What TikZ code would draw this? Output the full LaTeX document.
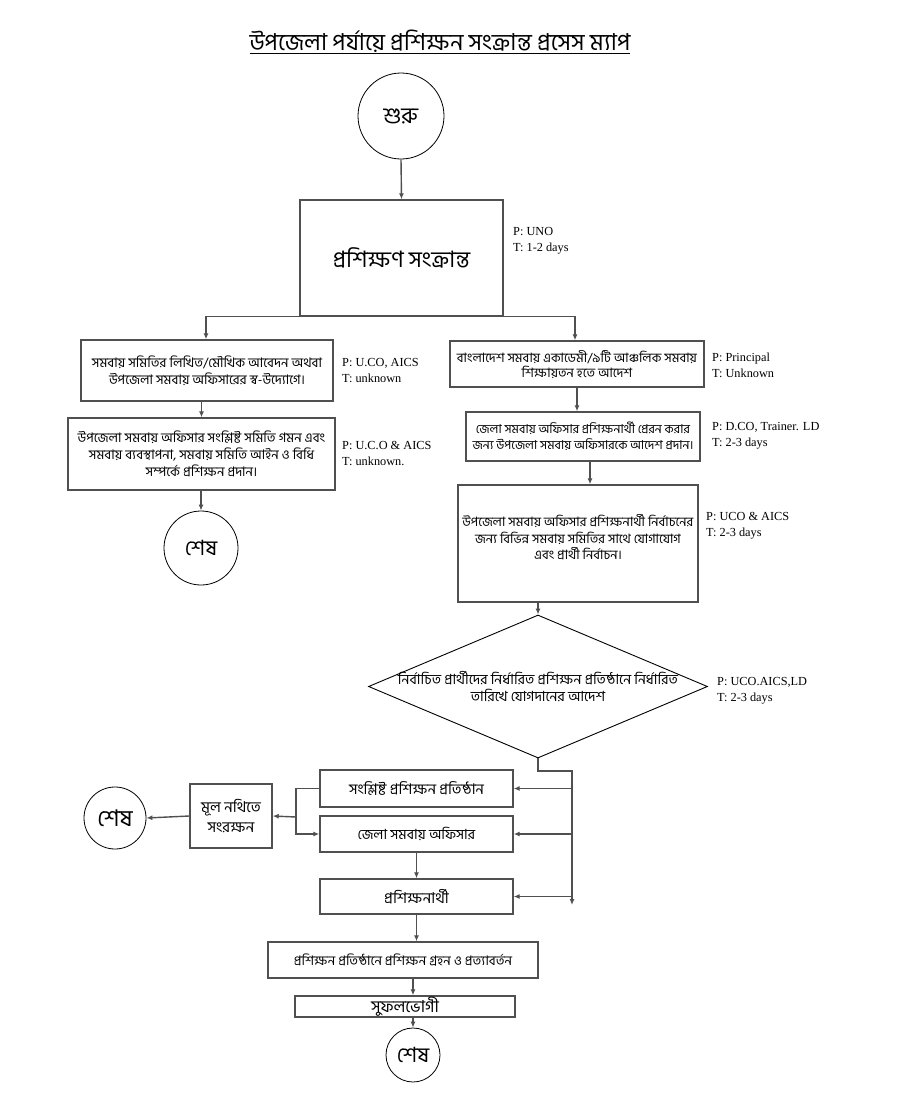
\documentclass[tikz,border=0pt]{standalone}
\usepackage{fontspec}
\setmainfont{Liberation Serif}
\newfontfamily\bn[Script=Bengali]{Hind Siliguri}
\usetikzlibrary{shapes.geometric,arrows.meta}
\definecolor{ln}{HTML}{505050}
\begin{document}
\begin{tikzpicture}[x=1pt,y=-1pt,
  box/.style={draw=ln,line width=1.4pt,inner sep=0pt,align=center,font=\bn\fontsize{13.2}{17}\selectfont},
  term/.style={circle,draw=black,line width=0.8pt,inner sep=0pt,font=\bn\fontsize{21}{24}\selectfont},
  info/.style={anchor=west,align=left,inner sep=0pt,font=\fontsize{12.3}{16}\selectfont},
  conn/.style={draw=ln,line width=1.4pt,-{Latex[length=6pt,width=5pt]}},
  plain/.style={draw=ln,line width=1.4pt}]
\fill[white] (0,0) rectangle (903,1119);
\useasboundingbox (0,0) rectangle (903,1119);

\node[inner sep=0pt,font=\bn\fontsize{23.3}{26}\selectfont] (title) at (440,42) {\underline{উপজেলা পর্যায়ে প্রশিক্ষন সংক্রান্ত প্রসেস ম্যাপ}};

\node[term,minimum size=86pt,font=\bn\fontsize{22.5}{24}\selectfont] (start) at (401,116) {শুরু};
\node[box,minimum width=203pt,minimum height=116pt,font=\bn\fontsize{22.6}{26}\selectfont] (big) at (401.5,258) {প্রশিক্ষণ সংক্রান্ত};
\node[info] (pbig) at (513,241) {P: UNO\\T: 1-2 days};

\node[box,minimum width=252pt,minimum height=61pt] (L1) at (207,370.5) {সমবায় সমিতির লিখিত/মৌখিক আবেদন অথবা\\উপজেলা সমবায় অফিসারের স্ব-উদ্যোগে।};
\node[info] (pL1) at (342,371) {P: U.CO, AICS\\T: unknown};
\node[box,minimum width=267pt,minimum height=72pt] (L2) at (201.5,454) {উপজেলা সমবায় অফিসার সংশ্লিষ্ট সমিতি গমন এবং\\সমবায় ব্যবস্থাপনা, সমবায় সমিতি আইন ও বিধি\\সম্পর্কে প্রশিক্ষন প্রদান।};
\node[info] (pL2) at (342,453) {P: U.C.O \& AICS\\T: unknown.};
\node[term,minimum size=74pt] (end1) at (201,548) {শেষ};

\node[box,minimum width=254pt,minimum height=46pt,font=\bn\fontsize{12.9}{15}\selectfont] (R1) at (577,364) {বাংলাদেশ সমবায় একাডেমী/৯টি আঞ্চলিক সমবায়\\শিক্ষায়তন হতে আদেশ};
\node[info] (pR1) at (712,365) {P: Principal\\T: Unknown};
\node[box,minimum width=234pt,minimum height=49pt,font=\bn\fontsize{12.3}{16}\selectfont] (R2) at (583,436.5) {জেলা সমবায় অফিসার প্রশিক্ষনার্থী প্রেরন করার\\জন্য উপজেলা সমবায় অফিসারকে আদেশ প্রদান।};
\node[info] (pR2) at (712,436) {P: D.CO, Trainer. LD\\T: 2-3 days};
\node[box,minimum width=240pt,minimum height=117pt,font=\bn\fontsize{12.9}{16.5}\selectfont] (R3) at (578,543.5) {উপজেলা সমবায় অফিসার প্রশিক্ষনার্থী নির্বাচনের\\জন্য বিভিন্ন সমবায় সমিতির সাথে যোগাযোগ\\এবং প্রার্থী নির্বাচন।\\[-4pt]};
\node[info] (pR3) at (706,526) {P: UCO \& AICS\\T: 2-3 days};

\node[diamond,draw=black,line width=0.9pt,inner sep=0pt,minimum width=339pt,minimum height=143pt,
  label={[align=center,font=\bn\fontsize{14}{17}\selectfont]center:নির্বাচিত প্রার্থীদের নির্ধারিত প্রশিক্ষন প্রতিষ্ঠানে নির্ধারিত\\তারিখে যোগদানের আদেশ}] (dia) at (538,686.5) {};
\node[info] (pdia) at (717,691) {P: UCO.AICS,LD\\T: 2-3 days};

\node[box,minimum width=193pt,minimum height=37pt,font=\bn\fontsize{14.7}{17}\selectfont] (B1) at (416.5,788.5) {সংশ্লিষ্ট প্রশিক্ষন প্রতিষ্ঠান};
\node[box,minimum width=193pt,minimum height=36pt,font=\bn\fontsize{14}{17}\selectfont] (B2) at (416.5,834) {জেলা সমবায় অফিসার};
\node[box,minimum width=193pt,minimum height=35pt,font=\bn\fontsize{15}{17}\selectfont] (B3) at (416.5,896.5) {প্রশিক্ষনার্থী};
\node[box,minimum width=82pt,minimum height=64pt,font=\bn\fontsize{15}{20}\selectfont] (N) at (231,816) {মূল নথিতে\\সংরক্ষন};
\node[term,minimum size=62pt,font=\bn\fontsize{23}{24}\selectfont] (end2) at (115,818) {শেষ};
\node[box,minimum width=270pt,minimum height=36pt] (B4) at (403,960) {প্রশিক্ষন প্রতিষ্ঠানে প্রশিক্ষন গ্রহন ও প্রত্যাবর্তন};
\node[box,minimum width=220pt,minimum height=21pt,font=\bn\fontsize{16.5}{17}\selectfont] (B5) at (405,1006.5) {সুফলভোগী};
\node[term,minimum size=54pt] (end3) at (413,1055) {শেষ};

\coordinate (bus) at (572,771);
\coordinate (busend) at (572,905);
\coordinate (j) at (296,817);

\draw[conn] (start.south) -- (big.north);
\draw[conn] (big.south) -| ([xshift=-1pt]L1.north);
\draw[conn] (big.south) -| ([xshift=-2pt]R1.north);
\draw[conn] (L1.south -| L2.north) -- (L2.north);
\draw[conn] (L2.south -| end1.north) -- (end1.north);
\draw[conn] (R1.south) -- (R1.south |- R2.north);
\draw[conn] ([xshift=7pt]R2.south) -- ([xshift=7pt]R2.south |- R3.north);
\draw[conn] (R3.south -| dia.north) -- (dia.north);
\draw[conn] (dia.south) |- (bus) -- (busend);
\draw[conn] (bus |- B1.east) -- (B1.east);
\draw[conn] (bus |- B2.east) -- (B2.east);
\draw[conn] (bus |- B3.east) -- (B3.east);
\draw[conn] (B1.west) -| (j) |- (B2.west);
\draw[conn] (j) -- (N.east);
\draw[conn] (N.west) -- (end2.east);
\draw[conn] (B2.south) -- (B2.south |- B3.north);
\draw[conn] (B3.south) -- (B3.south |- B4.north);
\draw[conn] (B4.south -| end3.north) -- (B5.north -| end3.north);
\draw[conn] (B5.south -| end3.north) -- (end3.north);
\end{tikzpicture}
\end{document}
